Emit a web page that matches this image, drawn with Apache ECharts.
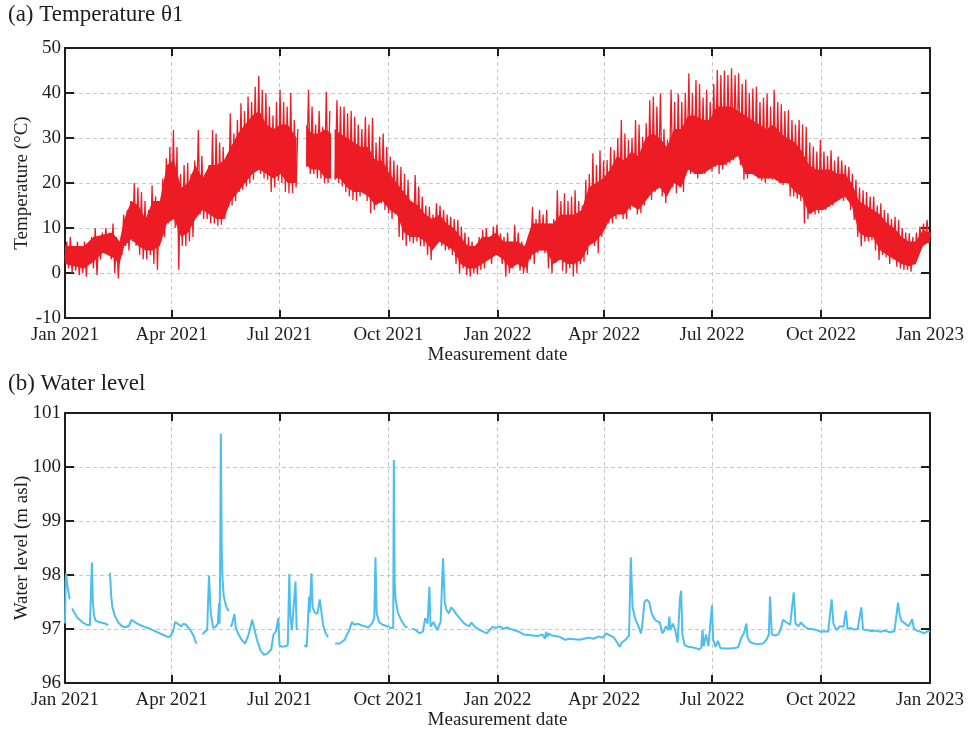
<!DOCTYPE html>
<html>
<head>
<meta charset="utf-8">
<script src="https://cdn.jsdelivr.net/npm/echarts@6/dist/echarts.min.js"></script>
<style>
  html, body { margin: 0; padding: 0; background: #fff; }
  #chart { width: 968px; height: 735px; }
</style>
</head>
<body>
<div id="chart"></div>
<script>
// Sensor record start, step of the temperature blocks (days)
const startDate = '2021-01-01';
const endDate = '2023-01-01';
const blockDays = 3;

// Temperature θ1: highest and lowest reading in each 3-day block (°C); null = no data
const tempMax = [
  7, 8, 6, 7, 5, 7, 6, 8, 10, 8, 9, 10,
  9, 11, 8, 6, 13, 14, 16, 20, 19, 18, 16, 14,
  19.5, 17, 15, 21, 25.5, 28, 31.8, 28, 22, 24, 24.5, 22,
  25, 31.8, 26, 22, 24, 31.8, 31, 29, 28, 26, 35.5, 31,
  34, 37.7, 36, 39.2, 38, 41.4, 43.8, 40.7, 40, 37, 35, 38,
  40.7, 38, 37, 40, 34, 32, null, null, 40.7, 37, 33, 36,
  32.5, 40.3, 36, null, 38.4, 37, 37, 35.5, 36, 34.7, 33, 32,
  34.7, 33, 34.5, 29, 30.3, 31, 28, 25.9, 25, 24, 23.6, 22,
  20.7, 15, 21.8, 19.2, 17, 15, 14.7, 13, 15.5, 15, 14, 13,
  12.5, 12, 11.8, 10.3, 9, 8, 7, 6, 8, 9.6, 10, 8,
  10.3, 10.7, 8.8, 8, 9, 7, 10.7, 9, 7, 6, 8, 14.7,
  12, 14, 13, 14, 11, 12, 18.4, 16, 17.7, 16, 17, 18.4,
  16, 15, 20.7, 22, 26.6, 24, 27.3, 25, 25.1, 28, 27.3, 30,
  34, 31, 29.6, 30, 34, 33, 30.3, 33.3, 38.4, 39.2, 37, 39.9,
  32, 29.6, 40.7, 38, 39.9, 38, 40, 44.4, 40, 42.9, 42, 39,
  40.7, 38, 42, 45.1, 44, 45, 44, 45.5, 44, 44.4, 42, 43,
  40, 41, 41.4, 38, 39, 39.9, 37, 40.7, 38, 37.5, 36, 36.2,
  34, 33, 34, 33, 32.5, 29, 28.1, 27, 29.6, 27, 26, 27.3,
  25, 25.9, 25, 24, 23.6, 22, 20.7, 19, 18.4, 18, 17, 17,
  15, 15.5, 14, 13.3, 12, 12.5, 11.8, 10, 9, 8.8, 8, 9,
  10.3, 11, 11.8, 9
];
const tempMin = [
  3, 1, 0, 0.5, -0.5, 0, -0.8, 2, 1, -0.5, 3, 5,
  4, 3, 0, -1.2, 4, 6, 5, 7, 6, 4, 3, 3,
  4, 2, 0.7, 7, 8, 11, 12, 10, 0.7, 6, 6, 7,
  8, 13, 13, 12, 12, 11, 11, 10.5, 10.7, 12, 14.7, 15,
  16, 18, 18.5, 19.2, 20, 20.7, 22.9, 22, 21, 20.7, 18, 19,
  20.5, 20, 18, 17.7, 17.7, 19, null, null, 23.6, 22, 22, 21,
  21, 20, 20, null, 20.7, 20, 19.2, 18, 17, 16.2, 16, 17,
  17.7, 16, 13.3, 14, 15.5, 15.5, 14, 13.3, 12, 13, 8, 7.3,
  6, 7, 6.6, 7, 6, 5.9, 4, 2.9, 6, 7.3, 6, 5,
  5.1, 4, 2, -0.1, 1, -0.5, -0.8, 0, -0.3, 0.7, 1, 3,
  2, 4, 4.4, 2, -0.8, 0, 1, 2, 0.5, -0.1, 0, 3,
  2, 4.4, 5, 4.4, 1, -0.1, 2.2, 3, 0.5, -0.1, 1, -0.8,
  0, 2, 2.5, 4, 7.3, 6, 4.4, 8, 10, 11, 11, 12,
  13.3, 12, 12, 14, 14.7, 13, 13.3, 15, 17, 16.2, 18, 20.7,
  17, 15.5, 20, 19, 17.7, 19, 18, 23.6, 22, 22, 21, 22,
  22, 23, 22.5, 23.6, 22, 23, 24, 24.4, 25, 26.6, 24, 20.7,
  21, 22, 22, 21, 20.5, 20, 21, 20.7, 20.7, 20, 19.5, 20,
  17, 17, 16.5, 16, 11, 12, 13.3, 13, 13.3, 14, 14, 14.7,
  15, 16, 17, 16, 17, 14, 11.8, 8, 5.9, 7, 7, 7.3,
  5, 2.9, 4, 3.5, 2, 3, 1.4, 1, 0.7, 0.7, 0.3, 2,
  4, 6, 7, 6.6
];

// Typical daily range (the dense core of the record): day since start, low and high (°C)
const coreDay = [
  0, 8, 16, 24, 32, 40, 46, 50, 56, 62, 68, 74, 80, 86, 92, 98, 104, 110, 116, 122,
  128, 134, 140, 146, 152, 158, 164, 170, 176, 182, 188, 195.5, 196.5, 203.5, 208, 214, 220, 224.5, 225, 227.5,
  232, 238, 244, 250, 256, 262, 268, 274, 280, 286, 292, 298, 304, 310, 316, 322, 328, 334, 340, 346,
  352, 358, 364, 370, 376, 382, 388, 394, 400, 406, 412, 418, 424, 430, 436, 442, 448, 454, 460, 466,
  472, 478, 484, 490, 496, 502, 508, 514, 520, 526, 532, 538, 544, 550, 556, 562, 568, 574, 580, 586,
  592, 598, 604, 610, 616, 622, 628, 634, 640, 646, 652, 658, 664, 670, 676, 682, 688, 694, 700, 706,
  712, 718, 724, 730
];
const coreLow = [
  2, 1.5, 1, 2.5, 4.5, 3.5, 2, 6, 7.5, 6, 5, 5, 6, 11, 12, 8, 9, 12, 14, 13,
  12, 12, 16, 18, 20, 22, 23, 22, 21, 22, 20, 20, null, 24, 23, 23, 21, 21, null, 21,
  21, 19, 18, 18, 17, 15, 16, 14, 13, 9, 8, 8, 7, 5, 7, 6, 5, 2, 1, 1,
  2, 3, 4, 3, 1, 2, 1, 4, 5, 5, 2, 3, 2, 2, 3, 6, 7, 9, 12, 13,
  13, 15, 14, 16, 18, 19, 17, 20, 19, 23, 22, 22, 23, 24, 24, 25, 26, 22, 22, 21,
  21, 21, 20, 20, 18, 17, 13, 14, 14, 15, 16, 17, 15, 9, 8, 8, 5, 4, 3, 2,
  1.5, 2, 6, 7
];
const coreHigh = [
  6, 6, 6, 8, 8.5, 9, 7, 12, 16, 15, 12, 16, 16, 24, 25, 19, 20, 24, 21, 24,
  24, 25, 28, 31, 33, 35, 36, 33, 32, 33, 33, 30, null, 33, 31, 31, 32, 31, null, 32,
  31, 30, 29, 28, 28, 25, 25, 22, 20, 18, 16, 15, 13, 12, 13, 11, 10, 8, 6, 6,
  8, 8, 9, 7, 7, 7, 6, 11, 11, 11, 11, 13, 13, 13, 14, 19, 20, 21, 23, 26,
  25, 27, 26, 30, 31, 30, 28, 32, 32, 35, 35, 34, 34, 37, 37, 37, 36, 35, 34, 33,
  32, 33, 31, 30, 29, 27, 24, 23, 23, 23, 22, 22, 20, 16, 15, 14, 13, 11, 10, 8,
  7, 7, 9.5, 9
];

// Water level: day since start and level (m asl); null level = logger gap
const wlDay = [
  0, 0.5, 1, 2, 4, 5, 6, 8, 10, 12, 15, 18, 21, 22, 22.7, 23.5, 24.5, 26, 30, 34, 36.5, 37,
  38, 39, 40, 42, 45, 48, 51, 54, 56, 58, 61, 64, 67, 70, 74, 78, 82, 85, 87, 89, 91, 93,
  95, 98, 100, 102, 105, 108, 110, 111, 113,
  116, 118, 120, 121.5, 123, 125, 127, 129, 130, 130.5, 131, 131.5, 132.3, 133, 134, 136, 138, 139,
  140, 141, 143, 144, 146, 149, 152, 155, 158, 160, 162, 165, 168, 171, 174, 176, 178, 180,
  181, 183, 186, 188, 189.3, 190, 191.5, 193, 194.5, 195.5, 197,
  202, 204, 206, 206.5, 208, 209, 211, 213, 215, 216.5, 218, 220, 222, 224,
  228, 232, 236, 238, 240, 242, 244, 247, 250, 253, 256, 259, 261, 262, 263, 265, 268, 272,
  275, 277, 277.5, 278.2, 279, 281, 284, 287, 289, 290,
  293, 296, 299, 302, 304, 306, 307.5, 308.5, 311, 314, 317, 319, 320.5, 322, 324, 326, 328,
  330, 333, 337, 341, 343, 346, 350, 353, 356, 359, 361, 364, 367, 370, 373, 376, 379, 383,
  387, 391, 395, 399, 403, 405, 406, 407, 408, 411, 414, 418, 422, 426, 430, 434, 438, 442,
  446, 450, 454, 457, 460, 463, 466, 468, 470, 473, 476, 477.5, 479, 481, 484, 486, 487, 489,
  491, 493, 495, 497, 499, 502, 504, 506, 507, 509, 510, 511, 513, 515, 517, 519, 520, 521,
  523, 526, 529, 532, 535, 537, 538, 539, 541, 543, 546, 547, 549, 551, 553, 557, 561, 565,
  568, 571, 573, 575, 576, 578, 581, 585, 589, 592, 594, 595, 596.5, 599, 602, 604, 606, 609,
  612, 615, 616.5, 619, 621, 624, 627, 630, 634, 638, 641, 644, 647, 648.5, 651, 654, 657,
  659, 660.5, 663, 666, 669, 672, 673.5, 677, 681, 684, 688, 692, 696, 700, 703, 704.5, 706,
  709, 712, 715, 716.5, 719, 722, 725, 728, 730
];
const wlLevel = [
  97.1, 97.9, 98.03, 97.8, 97.55, null, 97.38, 97.3, 97.22, 97.18, 97.12, 97.08, 97.07, 97.1, 98.23, 97.5, 97.25, 97.15, 97.12, 97.1, 97.07, null,
  98.04, 97.6, 97.4, 97.25, 97.12, 97.05, 97.03, 97.06, 97.17, 97.14, 97.1, 97.07, 97.04, 97.02, 96.98, 96.94, 96.9, 96.87, 96.85, 96.87, 96.95, 97.13,
  97.1, 97.05, 97.1, 97.08, 97.0, 96.9, 96.78, 96.73, null,
  96.9, 96.95, 96.98, 97.99, 97.3, 97.02, 97.04, 97.1, 97.48, 97.1, 98.4, 100.62, 98.4, 97.9, 97.6, 97.42, 97.33, null,
  97.04, 97.1, 97.28, 97.04, 96.92, 96.8, 96.73, 96.9, 97.17, 96.98, 96.8, 96.6, 96.52, 96.55, 96.62, 96.9, 96.95, 97.2,
  96.7, 96.67, 96.68, 96.7, 98.02, 97.3, 96.98, 96.95, 97.88, 96.98, null,
  96.7, 96.67, 97.6, 97.3, 98.03, 97.4, 97.3, 97.28, 97.55, 97.3, 97.05, 96.92, 96.85, null,
  96.73, 96.73, 96.8, 96.9, 96.98, 97.13, 97.08, 97.1, 97.07, 97.05, 97.03, 97.1, 97.2, 98.33, 97.3, 97.13, 97.08, 97.05,
  97.02, 97.02, 100.13, 97.88, 97.54, 97.3, 97.15, 97.05, 97.03, null,
  97.01, 96.98, 96.92, 96.95, 97.2, 97.1, 97.78, 97.04, 97.13, 96.98, 97.13, 98.31, 97.48, 97.35, 97.29, 97.4, 97.35,
  97.28, 97.2, 97.1, 97.05, 97.12, 97.04, 96.98, 96.95, 96.92, 97.0, 97.04, 97.02, 97.05, 97.0, 97.03, 97.0, 96.98, 96.95,
  96.9, 96.89, 96.88, 96.87, 96.9, 96.82, 96.95, 96.85, 96.92, 96.88, 96.87, 96.85, 96.8, 96.82, 96.81, 96.8, 96.82, 96.84,
  96.82, 96.86, 96.84, 96.92, 96.88, 96.85, 96.75, 96.67, 96.75, 96.8, 96.88, 98.33, 97.41, 97.2, 97.05, 96.92, 97.04, 97.5,
  97.54, 97.5, 97.3, 97.2, 97.15, 97.12, 96.92, 96.98, 97.05, 96.98, 97.23, 96.98, 97.1, 96.98, 96.75, 97.57, 97.71, 96.9,
  96.7, 96.67, 96.66, 96.65, 96.62, 96.65, 96.98, 96.68, 96.9, 96.68, 97.44, 96.8, 96.67, 96.78, 96.65, 96.64, 96.64, 96.65,
  96.66, 96.85, 96.92, 97.1, 96.85, 96.76, 96.73, 96.72, 96.73, 96.8, 96.9, 97.6, 96.9, 96.88, 96.9, 97.0, 97.17, 97.12,
  97.08, 97.68, 97.1, 97.05, 97.12, 97.05, 97.0, 97.0, 96.98, 96.95, 96.96, 96.95, 97.55, 97.1, 96.98, 97.05, 97.04,
  97.34, 97.0, 97.02, 96.99, 97.0, 97.4, 96.99, 96.98, 96.96, 96.97, 96.95, 96.97, 96.94, 96.96, 97.49, 97.25, 97.15,
  97.1, 97.05, 97.18, 97.0, 96.97, 96.95, 96.92, 96.96, 96.95
];

const DAY = 86400000;
const t0 = Date.parse(startDate + 'T00:00:00Z');
const t1 = Date.parse(endDate + 'T00:00:00Z');

// Zigzag between block minimum and maximum: the needle-like daily swings
const tempSwing = [];
tempMax.forEach((hi, i) => {
  const t = t0 + i * blockDays * DAY;
  if (hi === null) { tempSwing.push([t, null]); return; }
  tempSwing.push([t, tempMin[i]]);
  tempSwing.push([t + blockDays / 2 * DAY, hi]);
});
// Core band drawn as a stacked area: base = low, height = high - low
const coreBase = coreDay.map((d, i) => [t0 + d * DAY, coreLow[i]]);
const coreSpan = coreDay.map((d, i) => [t0 + d * DAY, coreHigh[i] === null ? null : coreHigh[i] - coreLow[i]]);
const wlData = wlDay.map((d, i) => [t0 + d * DAY, wlLevel[i]]);

const MONTHS = ['Jan','Feb','Mar','Apr','May','Jun','Jul','Aug','Sep','Oct','Nov','Dec'];
const FONT = "'Liberation Serif', 'Times New Roman', serif";
const INK = '#1e1e1e';
const RED = '#ED1C24';
const GRIDLINE = { color: '#c8c8c8', type: [4, 3], width: 1 };

function dateAxis(gridIndex, showLabels, position) {
  return {
    type: 'time', gridIndex, position, min: t0, max: t1, splitNumber: 8,
    name: showLabels ? 'Measurement date' : '',
    nameLocation: 'middle', nameGap: 27,
    nameTextStyle: { fontFamily: FONT, fontSize: 19, color: INK },
    axisLine: { show: true, onZero: false, lineStyle: { color: INK, width: 2 } },
    axisTick: { show: true, inside: true, length: 8, lineStyle: { color: INK, width: 2 } },
    minorTick: { show: false },
    axisLabel: {
      show: showLabels, fontFamily: FONT, fontSize: 19, color: INK, margin: 8,
      showMinLabel: true, showMaxLabel: true, hideOverlap: false,
      formatter: v => { const d = new Date(v); return MONTHS[d.getUTCMonth()] + ' ' + d.getUTCFullYear(); }
    },
    splitLine: { show: showLabels, lineStyle: GRIDLINE }
  };
}
function valueAxis(gridIndex, showLabels, position, min, max, interval, name) {
  return {
    type: 'value', gridIndex, position, min, max, interval,
    name: showLabels ? name : '',
    nameLocation: 'middle', nameGap: 33, nameRotate: 90, nameMoveOverlap: false,
    nameTextStyle: { fontFamily: FONT, fontSize: 19, color: INK },
    axisLine: { show: true, onZero: false, lineStyle: { color: INK, width: 2 } },
    axisTick: { show: true, inside: true, length: 9, lineStyle: { color: INK, width: 2 } },
    axisLabel: { show: showLabels, fontFamily: FONT, fontSize: 19, color: INK, margin: 4 },
    splitLine: { show: showLabels, lineStyle: GRIDLINE }
  };
}

const chart = echarts.init(document.getElementById('chart'), null, { renderer: 'canvas' });
chart.setOption({
  animation: false,
  useUTC: true,
  backgroundColor: '#ffffff',
  title: [
    { text: '(a) Temperature θ1', left: 8, top: 3, padding: 0,
      textStyle: { fontFamily: FONT, fontSize: 23, fontWeight: 'normal', color: INK } },
    { text: '(b) Water level', left: 8, top: 372, padding: 0,
      textStyle: { fontFamily: FONT, fontSize: 23, fontWeight: 'normal', color: INK } }
  ],
  grid: [
    { left: 65, right: 38, top: 48, height: 270, containLabel: false, outerBoundsMode: 'none' },
    { left: 65, right: 38, top: 413, height: 270, containLabel: false, outerBoundsMode: 'none' }
  ],
  xAxis: [
    dateAxis(0, true, 'bottom'),
    dateAxis(0, false, 'top'),
    dateAxis(1, true, 'bottom'),
    dateAxis(1, false, 'top')
  ],
  yAxis: [
    valueAxis(0, true, 'left', -10, 50, 10, 'Temperature (°C)'),
    valueAxis(0, false, 'right', -10, 50, 10, ''),
    valueAxis(1, true, 'left', 96, 101, 1, 'Water level (m asl)'),
    valueAxis(1, false, 'right', 96, 101, 1, '')
  ],
  series: [
    { type: 'line', xAxisIndex: 0, yAxisIndex: 0, data: coreBase, stack: 'core',
      symbol: 'none', showSymbol: false, connectNulls: false, clip: true,
      lineStyle: { width: 0, opacity: 0 }, silent: true },
    { type: 'line', xAxisIndex: 0, yAxisIndex: 0, data: coreSpan, stack: 'core',
      symbol: 'none', showSymbol: false, connectNulls: false, clip: true,
      lineStyle: { width: 0, opacity: 0 },
      areaStyle: { color: RED, opacity: 1 }, silent: true },
    { type: 'line', xAxisIndex: 0, yAxisIndex: 0, data: tempSwing, showSymbol: false,
      symbol: 'none', sampling: null, connectNulls: false, clip: true,
      lineStyle: { color: RED, width: 1.3 } },
    { type: 'line', xAxisIndex: 2, yAxisIndex: 2, data: wlData, showSymbol: false,
      symbol: 'none', connectNulls: false, clip: true,
      lineStyle: { color: '#4DBEEE', width: 2 } }
  ]
});
</script>
</body>
</html>
